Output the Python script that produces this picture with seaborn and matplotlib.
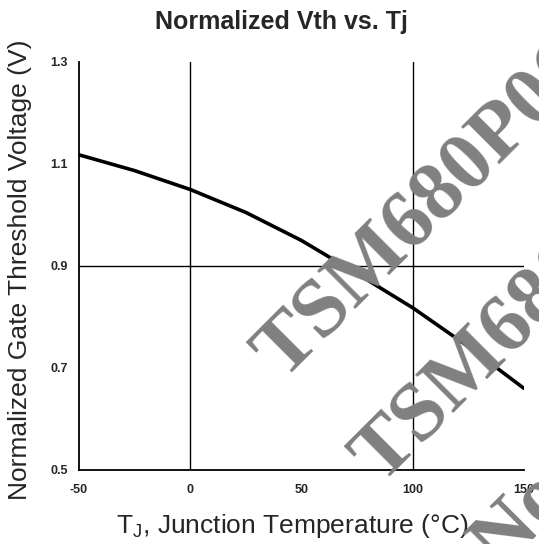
import numpy as np
import pandas as pd
import matplotlib
matplotlib.use("Agg")
import matplotlib.pyplot as plt
import seaborn as sns

# ---------------------------
# Data
# ---------------------------
temperature = [-50, -25, 0, 25, 50, 75, 100, 125, 150]
vth_norm = [1.118, 1.087, 1.050, 1.005, 0.950, 0.885, 0.818, 0.742, 0.660]

x_ticks = [-50, 0, 50, 100, 150]
y_ticks = [0.5, 0.7, 0.9, 1.1, 1.3]
x_grid = [0, 100]
y_grid = [0.9]

watermarks = ["TSM680P06", "TSM680P06", "Not Recommended"]

TITLE = "Normalized Vth vs. Tj"
XLABEL = "T$_\\mathregular{J}$, Junction Temperature (°C)"
YLABEL = "Normalized Gate Threshold Voltage (V)"

# ---------------------------
# Plot
# ---------------------------
sns.set_style("white")
plt.rcParams["font.family"] = ["Liberation Sans", "DejaVu Sans"]

df = pd.DataFrame({"Tj": temperature, "Vth": vth_norm})

fig = plt.figure(figsize=(5.39, 5.44), dpi=100)
ax = fig.add_axes([79 / 539, 1 - 470 / 544, 445 / 539, 408 / 544])

for gx in x_grid:
    ax.axvline(gx, color="black", lw=1.0, zorder=1)
for gy in y_grid:
    ax.axhline(gy, color="black", lw=1.0, zorder=1)

sns.lineplot(data=df, x="Tj", y="Vth", ax=ax, color="black", lw=2.6, zorder=3)

ax.set_xlim(-50, 150)
ax.set_ylim(0.5, 1.3)
ax.set_xticks(x_ticks)
ax.set_yticks(y_ticks)
ax.set_xticklabels([str(t) for t in x_ticks], fontsize=9, fontweight="bold")
ax.set_yticklabels([f"{t:.1f}" for t in y_ticks], fontsize=9, fontweight="bold")
ax.tick_params(axis="x", length=0, pad=10)
ax.tick_params(axis="y", length=0, pad=8)

for side in ["top", "right"]:
    ax.spines[side].set_visible(False)
for side in ["left", "bottom"]:
    ax.spines[side].set_color("black")
    ax.spines[side].set_linewidth(1.3)

ax.set_xlabel(XLABEL, fontsize=19)
ax.xaxis.set_label_coords(0.479, -0.103)
ax.set_ylabel(YLABEL, fontsize=19, va="center")
ax.yaxis.set_label_coords(-0.133, 0.49)

fig.text(281 / 539, 1 - 22 / 544, TITLE, ha="center", va="center",
         fontsize=18, fontweight="bold")

# diagonal watermarks
wm_pos = [(283, 380), (381, 484), (500, 572)]
for (px, py), txt in zip(wm_pos, watermarks):
    fig.text(px / 539, 1 - py / 544, txt, rotation=45, rotation_mode="anchor",
             ha="left", va="baseline", fontsize=60, fontweight="bold",
             family="Liberation Serif", color="#808080", zorder=2)

fig.savefig("out.png", dpi=100)
